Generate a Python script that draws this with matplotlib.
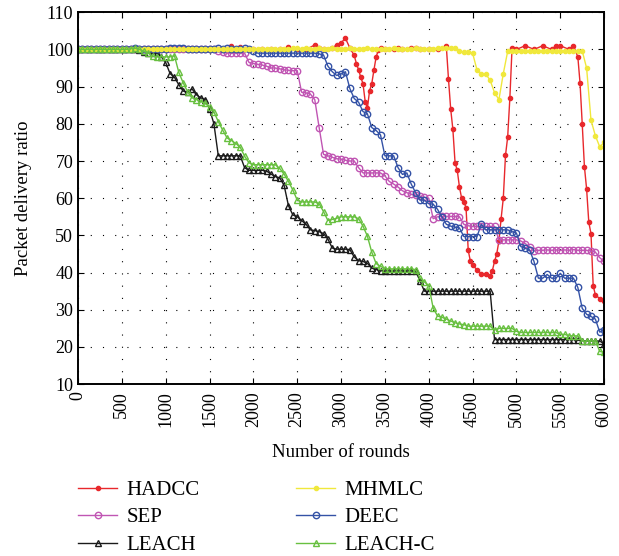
import numpy as np
import matplotlib.pyplot as plt

plt.rcParams['font.family'] = ['Liberation Serif', 'DejaVu Serif']

# sampling grid shared by most protocols (rounds)
rounds = np.arange(0, 6001, 50)

mhmlc = [100, 100, 100, 100, 100, 100, 100, 100, 100, 100,
         100, 100, 100, 100, 100, 100, 100, 100, 100, 100,
         100, 100, 100, 100, 100, 100, 100, 100, 100, 100,
         100, 100, 100, 100, 100, 100, 100, 100, 100, 100,
         100, 100, 100, 100, 100, 100, 100, 100, 100.2, 100.3,
         100.3, 100.2, 100.3, 100.2, 100.2, 100.3, 100.2, 100.2, 100.3, 100.2,
         100.2, 100.2, 100.3, 100.2, 100.2, 100.2, 100.3, 100.2, 100.2, 100.2,
         100.2, 100.2, 100.3, 100.2, 100.2, 100.2, 100.2, 100.3, 100.2, 100.2,
         100.2, 100.2, 100.3, 100.3, 100.4, 100.5, 100.3, 99.5, 99.3, 99.2,
         99.0, 94.5, 93.5, 93.4, 91.7, 88.4, 86.5, 93.5, 99.5, 99.6,
         99.6, 99.6, 99.6, 99.6, 99.6, 99.6, 99.6, 99.6, 99.6, 99.6,
         99.6, 99.6, 99.6, 99.6, 99.6, 99.6, 95.0, 81.0, 76.8, 73.8,
         75.0]

sep = [100, 100, 100, 100, 100, 100, 100, 100, 100, 100,
       100, 100, 100, 100, 100, 100, 100, 100, 100, 100,
       100, 100, 100, 100, 100, 100, 100, 100, 100, 100,
       100, 100, 99.5, 99.2, 99, 99, 99, 99, 99, 96.5,
       96.2, 96, 95.8, 95.5, 95, 95, 94.8, 94.5, 94.4, 94.3,
       94.3, 88.5, 88.3, 88, 86.5, 79, 71.8, 71.4, 71, 70.6,
       70.5, 70.2, 70, 70, 68.2, 66.8, 66.8, 66.8, 66.8, 66.8,
       66, 64.5, 63.8, 63, 62, 61.5, 61, 60.8, 60.5, 60.2,
       60, 54.5, 55, 55.1, 55.1, 55.1, 55.1, 55, 53, 52.6,
       52.4, 52.4, 52.4, 52.4, 52.4, 52.4, 48.8, 48.8, 48.8, 48.8,
       48.8, 48.5, 47.8, 47, 45.8, 46, 46, 46.1, 46, 46.1,
       46, 46.1, 46, 46.2, 46, 46, 46, 45.8, 45.5, 44,
       43]

deec = [100, 100, 100, 100, 100, 100, 100, 100, 100, 100,
        100, 100, 100.2, 100.3, 100, 100.2, 100, 100, 100, 100,
        100, 100.3, 100.4, 100.4, 100.3, 100, 100, 100, 100, 100,
        100, 100.2, 100.3, 100.2, 100.4, 100, 100, 100, 100.3, 100,
        99.5, 99, 99, 99, 99, 99, 99, 99, 99, 99,
        99, 99, 99, 99, 99, 98.8, 98.5, 95.5, 94, 93,
        93.4, 94, 89.5, 86.8, 85.8, 83.3, 82.7, 79, 78.2, 77,
        71.4, 71.4, 71.4, 68.2, 66.4, 66.8, 63.8, 61.5, 59.5, 59.5,
        58.5, 58.4, 57, 55, 53, 52.5, 52.2, 52, 49.7, 49.7,
        49.7, 49.7, 53, 51.5, 51.5, 51.5, 51.5, 51.5, 51.5, 51,
        50.6, 47, 46.5, 46.1, 43, 38.5, 38.5, 39.5, 38.5, 38.5,
        39.8, 38.5, 38.5, 38.5, 36, 30.4, 28.8, 28.2, 27.5, 24,
        24.5]

leach = [100, 100, 100, 100, 100, 100, 100, 100, 100, 100,
         100, 100, 100, 100, 99.8, 99.3, 99, 99, 99, 98,
         96.5, 93.5, 92.5, 90.5, 88.8, 88.5, 89.4, 87.8, 87, 86.5,
         84, 80, 71.4, 71.4, 71.4, 71.4, 71.4, 71.4, 68.2, 67.5,
         67.5, 67.5, 67.5, 67.3, 66.5, 65.8, 65.5, 63.5, 58, 55.5,
         55, 54, 53, 51.5, 51.3, 51, 50.5, 49, 46.6, 46.3,
         46.3, 46.3, 46.2, 44.2, 43.2, 43, 42.5, 41.2, 40.8, 40.5,
         40.4, 40.4, 40.4, 40.4, 40.4, 40.4, 40.4, 40.4, 37.8, 35,
         35, 35, 35, 35, 35, 35, 35, 35, 35, 35,
         35, 35, 35, 35, 35, 22, 22, 22, 22, 22,
         22, 22, 22, 22, 22, 22, 22, 22, 22, 22,
         22, 22, 22, 22, 21.8, 21.7, 21.6, 21.6, 21.6, 21.6,
         20.8]

leach_c = [100, 100, 100, 100, 100, 100, 100, 100, 100, 100,
           100, 100, 100.2, 100.3, 100, 99.5, 99, 98.2, 98, 98,
           98, 98, 98.3, 93.8, 91, 88.6, 87, 86.5, 86, 85.5,
           84.5, 83.2, 80.6, 78.3, 76.2, 75.5, 74.7, 73.7, 71.3, 69.5,
           69, 69, 69, 69, 69, 69, 68, 66.5, 64.5, 62.2,
           59.5, 59, 59, 59, 59, 58.5, 56.4, 54, 54.3, 54.6,
           55, 55, 55, 55, 54.5, 52.5, 49.8, 45.5, 42.4, 41.7,
           41, 41, 41, 41, 41, 41, 41, 40.8, 38.5, 37.5,
           36.5, 30.5, 28.3, 28, 27.5, 27, 26.5, 26.2, 26, 25.6,
           25.6, 25.6, 25.6, 25.6, 25.6, 24.5, 25, 25, 25, 25,
           24.2, 23.9, 23.9, 23.9, 23.9, 23.9, 23.9, 23.9, 23.9, 23.9,
           23.4, 23.4, 23, 23, 23, 21.6, 21.6, 21.6, 21.6, 18.8,
           18.6]

# HADCC is sampled more finely around its two dips
hadcc_rounds = [0, 100, 200, 300, 400, 500, 600, 700, 800, 900,
                1000, 1100, 1200, 1300, 1400, 1500, 1600, 1650, 1700, 1750,
                1800, 1850, 1900, 2000, 2100, 2200, 2300, 2400, 2500, 2600,
                2700, 2750, 2800, 2900, 2950, 3000, 3050, 3100,
                3150, 3175, 3200, 3225, 3250, 3275, 3300, 3325, 3350, 3375,
                3400, 3425, 3450,
                3500, 3600, 3650, 3700, 3800, 3850, 3900, 4000, 4100, 4200,
                4225, 4250, 4275, 4300, 4325, 4350, 4375, 4400, 4425, 4450,
                4475, 4500, 4550, 4600, 4650, 4700, 4725, 4750, 4775, 4800,
                4825, 4850, 4875, 4900, 4925, 4950,
                5000, 5100, 5200, 5300, 5400, 5450, 5500, 5600, 5650, 5700,
                5725, 5750, 5775, 5800, 5825, 5850, 5875, 5900, 5950, 6000]
hadcc = [100, 100, 100, 100, 100, 100, 100, 100, 100, 100,
         100, 100, 100, 100, 100, 100, 100, 100.2, 100, 100.8,
         100, 100.6, 100, 100, 100, 100, 100, 100.6, 100, 100,
         101.2, 100.4, 100, 100.3, 101.3, 101.8, 103, 100.4,
         98.4, 96.2, 94.5, 92.5, 90.8, 86, 84.2, 88.9, 90.8, 94.5,
         98, 99.8, 100.4,
         100, 100, 100.5, 100, 100.5, 100.5, 100, 100, 100, 100.9,
         92, 84, 78.5, 69.5, 67.5, 63, 60, 59, 57.5, 46,
         43, 42, 40.8, 39.7, 39.6, 39.2, 40.5, 43, 45, 48.5,
         54.5, 60, 71.5, 76.5, 87, 100.5,
         100, 101, 100, 101, 100, 101, 101, 100, 101, 98,
         91, 80, 68.5, 62.5, 53.5, 50.5, 36.5, 34, 33, 32.5]

fig = plt.figure(figsize=(6.19, 5.56), dpi=100)
ax = fig.add_axes([0.126, 0.309, 0.850, 0.669])

ax.plot(hadcc_rounds, hadcc, color='#e8282c', marker='o', markersize=3.0,
        linewidth=1.0, label='HADCC')
ax.plot(rounds, sep, color='#c055b3', marker='o', markersize=4.6, mfc='none',
        mew=1.0, linewidth=1.0, label='SEP')
ax.plot(rounds, leach, color='#1a1a1a', marker='^', markersize=4.6, mfc='none',
        mew=1.0, linewidth=1.0, label='LEACH')
ax.plot(rounds, deec, color='#3452a6', marker='o', markersize=4.6, mfc='none',
        mew=1.0, linewidth=1.0, label='DEEC')
ax.plot(rounds, mhmlc, color='#f0e83c', marker='o', markersize=3.0,
        linewidth=1.0, label='MHMLC')
ax.plot(rounds, leach_c, color='#68c040', marker='^', markersize=4.6, mfc='none',
        mew=1.0, linewidth=1.0, label='LEACH-C')

ax.set_xlim(0, 6000)
ax.set_ylim(10, 110)
ax.set_xticks(np.arange(0, 6001, 500))
ax.set_yticks(np.arange(10, 111, 10))
ax.tick_params(axis='x', labelrotation=90, pad=5)
ax.tick_params(direction='in', top=True, right=True, labelsize=13, length=4)
for s in ax.spines.values():
    s.set_linewidth(1.4)
ax.grid(True, linestyle=(0, (1, 10)), linewidth=0.8, color='k')

ax.set_xlabel('Number of rounds', fontsize=13.5, labelpad=12)
ax.set_ylabel('Packet delivery ratio', fontsize=13.5, labelpad=10)

h, l = ax.get_legend_handles_labels()
order = [0, 1, 2, 4, 3, 5]
fig.legend([h[i] for i in order], [l[i] for i in order], ncol=2,
           loc='upper left', bbox_to_anchor=(0.109, 0.155), frameon=False,
           fontsize=15, handlelength=1.9, handletextpad=0.45,
           columnspacing=4.6, labelspacing=0.38, borderpad=0)

fig.savefig('out.png', dpi=100)
